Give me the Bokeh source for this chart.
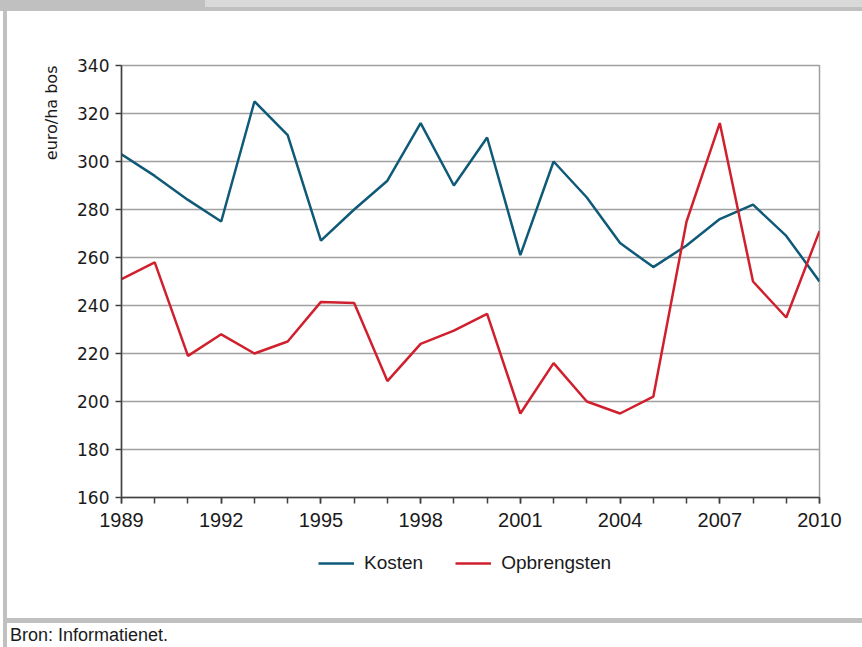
from bokeh.plotting import figure
from bokeh.layouts import column, row
from bokeh.models import Range1d, FixedTicker, Legend, LegendItem, Title, Div
from bokeh.embed import file_html
from bokeh.resources import INLINE

# ---- data ----
years = [1989, 1990, 1991, 1992, 1993, 1994, 1995, 1996, 1997, 1998, 1999,
         2000, 2001, 2002, 2003, 2004, 2005, 2006, 2007, 2008, 2009, 2010]
kosten = [303, 294, 284, 275, 325, 311, 267, 280, 292, 316, 290,
          310, 261, 300, 285, 266, 256, 265, 276, 282, 269, 250]
opbrengsten = [251, 258, 219, 228, 220, 225, 241.5, 241, 208.5, 224, 229.5,
               236.5, 195, 216, 200, 195, 202, 275, 316, 250, 235, 271]
x_tick_years = [1989, 1992, 1995, 1998, 2001, 2004, 2007, 2010]
y_tick_values = [160, 180, 200, 220, 240, 260, 280, 300, 320, 340]
series_names = ["Kosten", "Opbrengsten"]
y_title = "euro/ha bos"
source_note = "Bron: Informatienet."

BLUE = "#0f5a78"
RED = "#d0202e"
AXIS = "#404040"
GRID = "#a0a0a0"
BORDER = "#c0c0c0"
LIGHT = "#d9d9d9"
TEXT = "#1a1a1a"

TOTAL_W, TOTAL_H = 862, 647
GAP_W, STRIP_W = 3, 4
TOP_H = 11
BOTTOM_BAND = 5
FOOTER_H = 24
PW = TOTAL_W - GAP_W - STRIP_W            # 855
BODY_H = TOTAL_H - TOP_H - BOTTOM_BAND - FOOTER_H   # 607
PH = 526                                  # main chart (frame + x axis)
LH = BODY_H - PH                          # legend strip

p = figure(width=PW, height=PH,
           x_range=Range1d(1989, 2010), y_range=Range1d(160, 340),
           output_backend="svg", toolbar_location=None,
           min_border_left=114, min_border_right=PW - 812,
           min_border_top=54, min_border_bottom=PH - 486)

r1 = p.line(years, kosten, line_color=BLUE, line_width=2.5)
r2 = p.line(years, opbrengsten, line_color=RED, line_width=2.5)

# axes
p.xaxis.ticker = FixedTicker(ticks=x_tick_years, minor_ticks=years)
p.yaxis.ticker = FixedTicker(ticks=y_tick_values)
for ax in (p.xaxis, p.yaxis):
    ax.axis_line_color = AXIS
    ax.axis_line_width = 1.5
    ax.major_tick_line_color = AXIS
    ax.major_tick_line_width = 1.5
    ax.major_tick_out = 6
    ax.major_tick_in = 0
    ax.minor_tick_in = 0
    ax.major_label_text_color = TEXT
p.xaxis.minor_tick_line_color = AXIS
p.xaxis.minor_tick_line_width = 1.5
p.xaxis.minor_tick_out = 6
p.yaxis.minor_tick_line_color = None
p.xaxis.major_label_text_font = "Liberation Sans"
p.xaxis.major_label_text_font_size = "20px"
p.xaxis.major_label_standoff = 9
p.yaxis.major_label_text_font = "DejaVu Sans"
p.yaxis.major_label_text_font_size = "17px"
p.yaxis.major_label_standoff = 6

p.xgrid.grid_line_color = None
p.ygrid.ticker = FixedTicker(ticks=y_tick_values)
p.ygrid.grid_line_color = GRID
p.ygrid.grid_line_width = 1.5
p.outline_line_color = GRID
p.outline_line_width = 1.5
p.background_fill_color = "white"
p.border_fill_color = "white"

# y-axis title (top aligned, vertical)
p.add_layout(Title(text=y_title, align="right", text_font="DejaVu Sans",
                   text_font_size="16px", text_font_style="normal",
                   text_color=TEXT, standoff=28), "left")

# legend strip: a bare figure whose frame fills it, holding only the legend
# (same series drawn there, but outside its visible range, so only the legend shows)
lg = figure(width=PW, height=LH, x_axis_type=None, y_axis_type=None,
            x_range=Range1d(0, 1), y_range=Range1d(0, 1),
            output_backend="svg", toolbar_location=None,
            min_border=0, outline_line_color=None)
lg.xgrid.grid_line_color = None
lg.ygrid.grid_line_color = None
k1 = lg.line(years, kosten, line_color=BLUE, line_width=2.5)
k2 = lg.line(years, opbrengsten, line_color=RED, line_width=2.5)
legend = Legend(items=[LegendItem(label=series_names[0], renderers=[k1]),
                       LegendItem(label=series_names[1], renderers=[k2])],
                orientation="horizontal", location=(197, LH - 37),
                glyph_width=36, glyph_height=20, label_standoff=10, spacing=32,
                padding=0, margin=0, border_line_color=None,
                background_fill_alpha=0,
                label_text_font="Liberation Sans", label_text_font_size="19px",
                label_text_color=TEXT)
lg.add_layout(legend, "center")

def box(w, h, style):
    return Div(text="", width=w, height=h, margin=0, styles=style)

gray = {"background-color": BORDER}
white = {"background-color": "white"}
top_band = row(box(205, TOP_H, gray),
               box(TOTAL_W - 205, TOP_H,
                   {"background": f"linear-gradient(to bottom, {LIGHT} 0px, {LIGHT} 7px, {BORDER} 7px, {BORDER} {TOP_H}px)"}),
               spacing=0)
body = row(box(GAP_W, BODY_H, white), box(STRIP_W, BODY_H, gray),
           column(p, lg, spacing=0), spacing=0)
bottom_band = row(box(GAP_W, BOTTOM_BAND, white), box(TOTAL_W - GAP_W, BOTTOM_BAND, gray), spacing=0)
footer_text = Div(text=source_note, width=PW, height=FOOTER_H, margin=0,
                  styles={"font-family": "Liberation Sans", "font-size": "18px",
                          "color": TEXT, "padding-left": "3px", "line-height": "24px",
                          "background-color": "white"})
footer = row(box(GAP_W, FOOTER_H, white), box(STRIP_W, FOOTER_H, gray), footer_text, spacing=0)

layout = column(top_band, body, bottom_band, footer, spacing=0)

open("out.html", "w").write(file_html(layout, INLINE))
